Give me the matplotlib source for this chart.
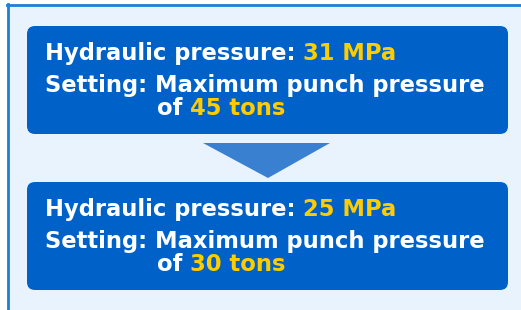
import matplotlib
matplotlib.use("Agg")
import matplotlib.pyplot as plt
from matplotlib.patches import FancyBboxPatch, Polygon, Rectangle

# content of the two boxes
pressures = ["31 MPa", "25 MPa"]
tonnages = ["45 tons", "30 tons"]
label_pressure = "Hydraulic pressure: "
label_setting = "Setting: Maximum punch pressure"
label_of = "of "

W, H = 521, 310
bg = "#e8f3fd"
box_col = "#0062c8"
arrow_col = "#3a80d0"
border_col = "#1f7fd6"
yellow = "#ffcc00"

fig = plt.figure(figsize=(W / 100, H / 100), dpi=100)
ax = fig.add_axes([0, 0, 1, 1])
ax.set_xlim(0, W)
ax.set_ylim(H, 0)
ax.axis("off")
fig.patch.set_facecolor("white")

# light panel with blue top / left border
ax.add_patch(Rectangle((7, 4), W - 7, H - 4, facecolor=bg, edgecolor="none"))
ax.plot([7, W], [4.5, 4.5], color=border_col, lw=2)
ax.plot([7.5, 7.5], [4, H], color=border_col, lw=2)

fs = 16.25
font = dict(fontsize=fs, fontweight="bold", family="DejaVu Sans")
renderer = fig.canvas.get_renderer()


def two_part(x, y, first, second):
    t = ax.text(x, y, first, color="white", va="baseline", ha="left", **font)
    bb = t.get_window_extent(renderer=renderer)
    x2 = ax.transData.inverted().transform((bb.x1, bb.y0))[0]
    ax.text(x2, y, second, color=yellow, va="baseline", ha="left", **font)


tops = [26, 182]
for i, top in enumerate(tops):
    ax.add_patch(FancyBboxPatch((27 + 8, top + 8), 481 - 16, 108 - 16,
                                boxstyle="round,pad=8", facecolor=box_col,
                                edgecolor="none"))
    two_part(45, top + 34, label_pressure, pressures[i])
    ax.text(45, top + 66, label_setting, color="white", va="baseline", ha="left", **font)
    two_part(157, top + 89, label_of, tonnages[i])

ax.add_patch(Polygon([(203, 143), (330, 143), (268, 178)], closed=True,
                     facecolor=arrow_col, edgecolor="none"))

fig.savefig("out.png", dpi=100, facecolor=fig.get_facecolor())
